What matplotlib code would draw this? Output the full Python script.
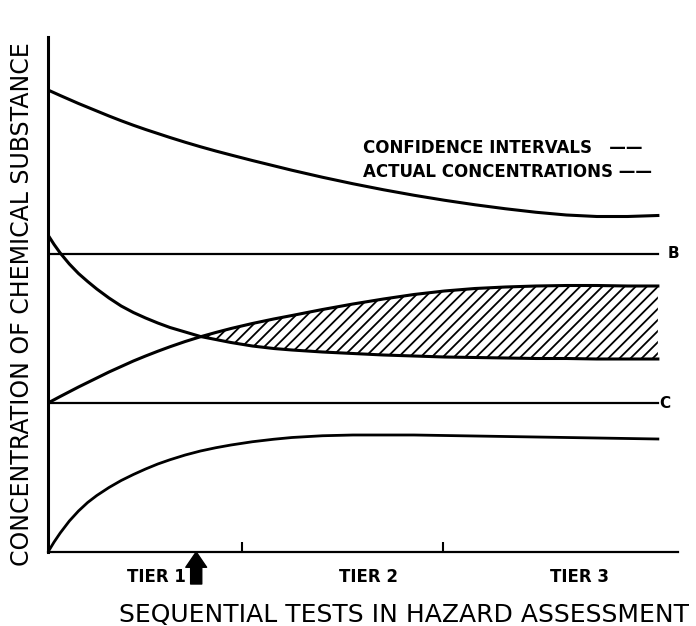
import numpy as np
import matplotlib
matplotlib.use('Agg')
import matplotlib.pyplot as plt

plt.rcParams['font.family'] = ['DejaVu Sans']
plt.rcParams['hatch.linewidth'] = 1.3

# test progression (arbitrary units along the x axis)
x = [0, 0.1, 0.2, 0.35, 0.5, 0.65, 0.8, 1.0, 1.2, 1.4, 1.6, 1.8, 2.0, 2.25,
     2.5, 2.75, 3.0, 3.35, 3.7, 4.0, 4.5, 5.0, 5.5, 6.0, 6.5, 7.0, 7.5, 8.0,
     8.5, 9.0, 9.5, 10]

# upper confidence limit
upper_ci = [92.4, 91.85, 91.3, 90.5, 89.7, 88.95, 88.2, 87.2, 86.25, 85.35,
            84.5, 83.7, 82.9, 81.95, 81.05, 80.2, 79.4, 78.3, 77.25, 76.35,
            74.95, 73.65, 72.45, 71.35, 70.35, 69.45, 68.65, 67.95, 67.4, 67.1,
            67.1, 67.3]
# curve falling from above B
falling = [63.4, 61.5, 59.8, 57.6, 55.7, 54.1, 52.6, 50.8, 49.2, 47.9, 46.8,
           45.8, 44.9, 44.0, 43.1, 42.5, 41.9, 41.2, 40.7, 40.4, 40.0, 39.7,
           39.4, 39.2, 39.0, 38.9, 38.8, 38.7, 38.7, 38.6, 38.6, 38.6]
# curve rising from C
rising = [29.8, 30.45, 31.1, 32.05, 33.0, 33.9, 34.8, 36.0, 37.1, 38.2, 39.2,
          40.15, 41.05, 42.1, 43.05, 43.9, 44.7, 45.7, 46.6, 47.3, 48.5, 49.6,
          50.6, 51.5, 52.2, 52.7, 53.0, 53.2, 53.3, 53.3, 53.2, 53.2]
# lower confidence limit
lower_ci = [0, 2.0, 3.8, 6.2, 8.2, 9.9, 11.3, 12.9, 14.3, 15.5, 16.6, 17.6,
            18.45, 19.4, 20.2, 20.85, 21.4, 22.05, 22.55, 22.9, 23.25, 23.4,
            23.4, 23.4, 23.3, 23.2, 23.1, 23.0, 22.9, 22.8, 22.7, 22.6]

level_b = 59.6
level_c = 29.8

tier_bounds = [3.18, 6.48]
tier_labels = ['TIER 1', 'TIER 2', 'TIER 3']
tier_label_x = [1.77, 5.25, 8.72]
arrow_x = 2.43

fig = plt.figure(figsize=(6.96, 6.26), dpi=100)
ax = fig.add_axes([48 / 696, 74 / 626, 630 / 696, 515 / 626])

x_arr = np.array(x)
fall_arr = np.array(falling)
rise_arr = np.array(rising)

ax.plot(x, upper_ci, color='black', lw=2.2)
ax.plot(x, falling, color='black', lw=2.2)
ax.plot(x, rising, color='black', lw=2.2)
ax.plot(x, lower_ci, color='black', lw=2.0)
ax.fill_between(x_arr, fall_arr, rise_arr, where=rise_arr >= fall_arr,
                interpolate=True, facecolor='none', edgecolor='black',
                hatch='///', linewidth=0)

ax.plot([x[0], x[-1]], [level_b, level_b], color='black', lw=1.6)
ax.plot([x[0], x[-1]], [level_c, level_c], color='black', lw=1.6)
ax.text(10.25, level_b, 'B', fontsize=11, fontweight='bold', va='center', ha='center')
ax.text(10.12, level_c, 'C', fontsize=11, fontweight='bold', va='center', ha='center')

# legend written as text, the way the original drawing has it
ax.text(5.16, 80.8, 'CONFIDENCE INTERVALS   \u2014\u2014', fontsize=12,
        fontweight='bold', va='center', ha='left')
ax.text(5.16, 76.0, 'ACTUAL CONCENTRATIONS \u2014\u2014', fontsize=12,
        fontweight='bold', va='center', ha='left')

ax.set_xlim(0, 10.33)
ax.set_ylim(0, 103)
for s in ['top', 'right']:
    ax.spines[s].set_visible(False)
ax.spines['left'].set_linewidth(2.2)
ax.spines['bottom'].set_linewidth(1.6)

ax.set_xticks(tier_bounds)
ax.tick_params(axis='x', direction='in', length=7, width=1.5, labelbottom=False)
ax.set_yticks([])

for lab, tx in zip(tier_labels, tier_label_x):
    ax.text(tx, -5, lab, fontsize=12, fontweight='bold', ha='center', va='center',
            clip_on=False)

ax.annotate('', xy=(arrow_x, 0), xytext=(arrow_x, -6.4),
            arrowprops=dict(facecolor='black', edgecolor='black', width=8,
                            headwidth=15, headlength=11, shrink=0),
            annotation_clip=False)

fig.text(22 / 696, 1 - 304 / 626, 'CONCENTRATION OF CHEMICAL SUBSTANCE',
         rotation=90, fontsize=17, ha='center', va='center')
fig.text(404 / 696, 1 - 615 / 626, 'SEQUENTIAL TESTS IN HAZARD ASSESSMENT',
         fontsize=18, ha='center', va='center')

fig.savefig('out.png', dpi=100, facecolor='white')
